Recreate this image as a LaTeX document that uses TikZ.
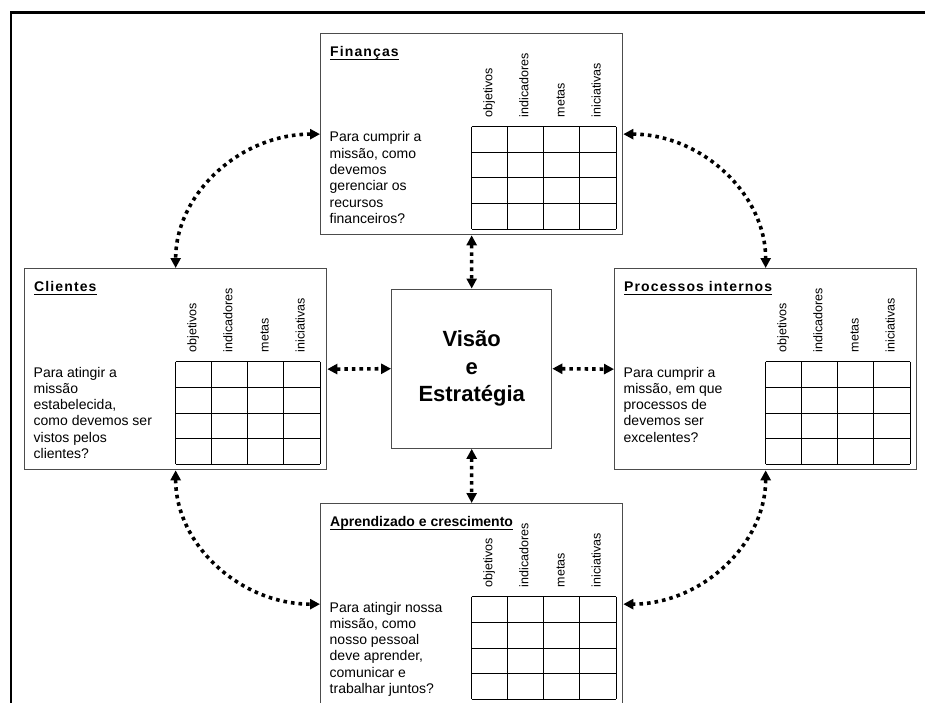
\documentclass[tikz,border=0pt]{standalone}
\usepackage{fontspec}
\setmainfont{Liberation Sans}
\usetikzlibrary{arrows.meta}
\tikzset{
  panelbox/.style={draw=black!70, line width=1.3pt, rectangle, inner sep=0pt,
    minimum width=302pt, minimum height=201pt, anchor=north west},
  titletext/.style={inner sep=0pt, anchor=base west, font=\fontsize{14}{16}\selectfont\bfseries},
  qtext/.style={inner sep=0pt, anchor=base west, align=left, font=\fontsize{14}{16.3}\selectfont},
  headtext/.style={inner sep=0pt, rotate=90, anchor=mid west, font=\fontsize{12.5}{14}\selectfont},
  gridline/.style={draw=black, line width=1pt},
  ulline/.style={draw=black, line width=1.2pt},
  centerbox/.style={draw=black!70, line width=1.3pt, rectangle, inner sep=0pt,
    minimum width=160pt, minimum height=159pt, align=center,
    font=\fontsize{22}{27.5}\selectfont\bfseries},
  biarrow/.style={line width=3.6pt, dash pattern=on 3.6pt off 4pt,
    {Triangle[length=10pt,width=10pt]}-{Triangle[length=10pt,width=10pt]}},
  frameline/.style={draw=black, line width=2.5pt}
}
\newcommand\widetitle[1]{{\addfontfeature{LetterSpace=8}#1}}
% #6 = number of lines of the question text (its base anchor is the last line)
\newcommand\bscpanel[6]{%
  \node[panelbox] (#1) at (#2,#3) {};
  \node[titletext] (#1-title) at (#2+10,#3+23.3) {#4};
  \draw[ulline] ([yshift=-3.2pt]#1-title.base west) -- ([yshift=-3.2pt]#1-title.base east);
  \node[qtext] (#1-q) at (#2+9.5,#3+109+16.3*#6-16.3) {#5};
  \foreach \i in {0,...,4} \draw[gridline] (#2+151.7+\i*36.08,#3+93.7) -- ++(0,102.6);
  \foreach \j in {0,...,4} \draw[gridline] (#2+151.7,#3+93.7+\j*25.65) -- ++(144.3,0);
  \foreach \t [count=\k from 0] in {objetivos,indicadores,metas,iniciativas}
    \node[headtext] (#1-h\k) at (#2+151.7+18.04+\k*36.08,#3+84.5) {\t};
}
\begin{document}
\begin{tikzpicture}[x=1pt,y=-1pt]
\useasboundingbox (0,0) rectangle (925,703);
\clip (0,0) rectangle (925,703);
\fill[white] (0,0) rectangle (925,703);
\draw[frameline] (11,710) -- (11,12.7) -- (930,12.7);

\bscpanel{fin}{320}{33}{\widetitle{Finanças}}{Para cumprir a\\missão, como\\devemos\\gerenciar os\\recursos\\financeiros?}{6}
\bscpanel{cli}{24}{268}{\widetitle{Clientes}}{Para atingir a\\missão\\estabelecida,\\como devemos ser\\vistos pelos\\clientes?}{6}
\bscpanel{pro}{614}{268}{\widetitle{Processos internos}}{Para cumprir a\\missão, em que\\processos de\\devemos ser\\excelentes?}{5}
\bscpanel{apr}{320}{503}{Aprendizado e crescimento}{Para atingir nossa\\missão, como\\nosso pessoal\\deve aprender,\\comunicar e\\trabalhar juntos?}{6}

\node[centerbox] (vis) at (471.7,368.7) {Visão\\e\\Estratégia};

\draw[biarrow] (fin.south) -- (vis.north);
\draw[biarrow] (vis.south) -- (apr.north);
\draw[biarrow] (cli.east) -- (vis.west);
\draw[biarrow] (vis.east) -- (pro.west);
\draw[biarrow] (fin.west) .. controls +(-80,0) and +(0,-74) .. (cli.north);
\draw[biarrow] (fin.east) .. controls +(78,0) and +(0,-74) .. (pro.north);
\draw[biarrow] (cli.south) .. controls +(0,74) and +(-80,0) .. (apr.west);
\draw[biarrow] (pro.south) .. controls +(0,74) and +(78,0) .. (apr.east);
\end{tikzpicture}
\end{document}
